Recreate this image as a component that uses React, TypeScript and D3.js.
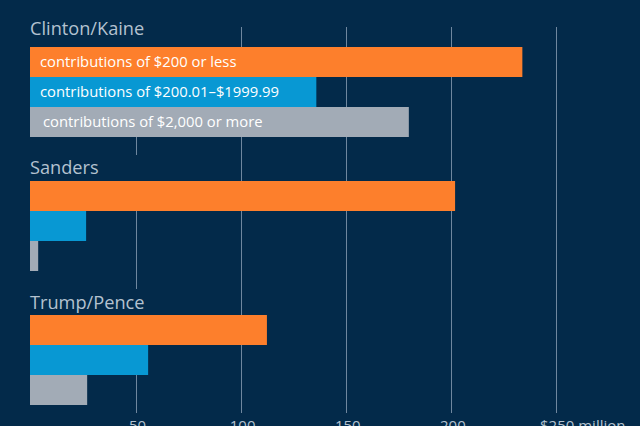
import React from "react";
import * as d3 from "d3";

const candidates = ["Clinton/Kaine", "Sanders", "Trump/Pence"];
const categories = [
  "contributions of $200 or less",
  "contributions of $200.01–$1999.99",
  "contributions of $2,000 or more",
];
const small = [234, 202, 112.5];
const medium = [136, 26.5, 56];
const large = [180, 3.7, 27];
const tickValues = [50, 100, 150, 200, 250];
const tickLabels = ["50", "100", "150", "200", "250"];

const W = 640;
const H = 426;
const BG = "#032a4a";
const COLORS = ["#fd7f2c", "#0898d3", "#a2abb6"];
const TITLE_COLOR = "#b4c2d0";
const GRID = "#6f879f";
const titleOffsets = [12, 7, 6];
const labelShift = [0, 0, 3];

export default function App() {
  const x = d3.scaleLinear().domain([0, 250]).range([30.4, 556]);
  const groupY = d3.scaleBand<string>().domain(candidates).range([47, 449]);
  const barY = d3.scaleBand<string>().domain(categories).range([0, 90]);
  const series = [small, medium, large];

  return (
    <svg
      width={W}
      height={H}
      style={{ position: "absolute", left: 0, top: 0, display: "block" }}
      fontFamily="'Open Sans', 'Noto Sans', sans-serif"
    >
      <rect x={0} y={0} width={W} height={H} fill={BG} />
      {tickValues.map((t) => (
        <line
          key={t}
          x1={Math.round(x(t)) + 0.5}
          x2={Math.round(x(t)) + 0.5}
          y1={27}
          y2={413}
          stroke={GRID}
          strokeWidth={1}
        />
      ))}
      {tickValues.map((t, i) =>
        t === 250 ? (
          <text
            key={t}
            x={x(t) - 16}
            y={431}
            fontSize={15}
            fill={TITLE_COLOR}
          >
            {"$" + tickLabels[i] + " million"}
          </text>
        ) : (
          <text
            key={t}
            x={x(t) + 2}
            y={431}
            fontSize={15}
            fill={TITLE_COLOR}
            textAnchor="middle"
          >
            {tickLabels[i]}
          </text>
        )
      )}
      {candidates.map((c, gi) => {
        const gy = groupY(c) as number;
        return (
          <g key={c}>
            <rect x={28} y={gy - 26} width={124} height={26} fill={BG} />
            <text
              x={30}
              y={gy - titleOffsets[gi]}
              fontSize={18.2}
              fill={TITLE_COLOR}
            >
              {c}
            </text>
            {categories.map((cat, ci) => (
              <rect
                key={cat}
                x={x(0) - 0.4}
                y={gy + (barY(cat) as number)}
                width={x(series[ci][gi]) - x(0) + 0.4}
                height={barY.bandwidth()}
                fill={COLORS[ci]}
              />
            ))}
            {gi === 0 &&
              categories.map((cat, ci) => (
                <text
                  key={cat}
                  x={40 + labelShift[ci]}
                  y={gy + (barY(cat) as number) + barY.bandwidth() / 2 + 5}
                  fontSize={14.8}
                  fontWeight={500}
                  fill="#ffffff"
                >
                  {cat}
                </text>
              ))}
          </g>
        );
      })}
    </svg>
  );
}
